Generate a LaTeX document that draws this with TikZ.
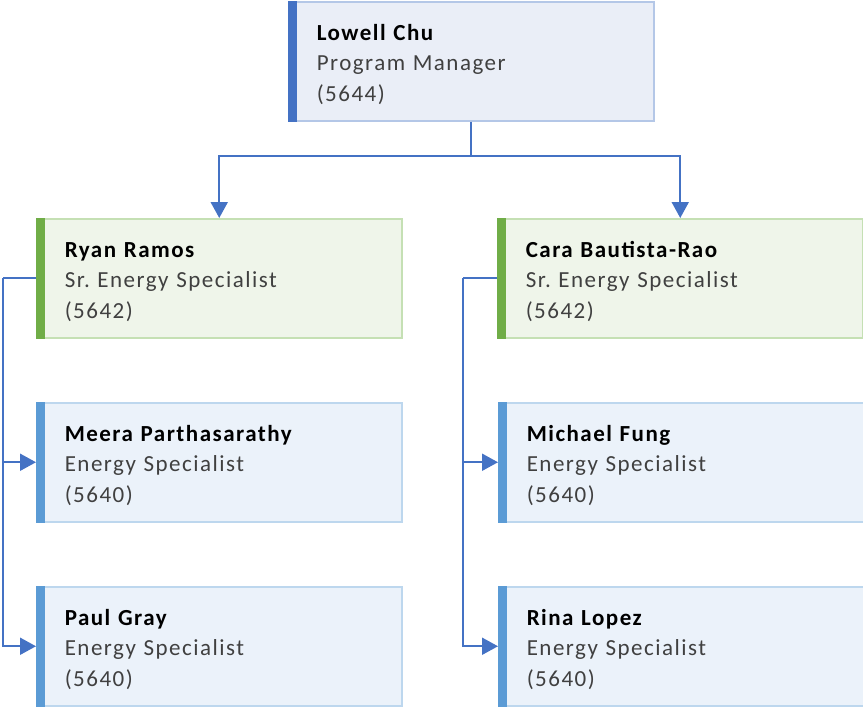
\documentclass[tikz,border=0pt]{standalone}
\usepackage{fontspec}
\setmainfont[LetterSpace=6.5]{Carlito}
\usetikzlibrary{arrows.meta}

\definecolor{linkblue}{HTML}{4472C4}
\definecolor{topfill}{HTML}{EAEEF7}
\definecolor{topborder}{HTML}{B4C7E7}
\definecolor{topbar}{HTML}{4472C4}
\definecolor{greenfill}{HTML}{EFF5EA}
\definecolor{greenborder}{HTML}{C5E0B4}
\definecolor{greenbar}{HTML}{70AD47}
\definecolor{bluefill}{HTML}{EBF2FA}
\definecolor{blueborder}{HTML}{BDD7EE}
\definecolor{bluebar}{HTML}{5B9BD5}
\definecolor{subtext}{HTML}{404040}

% name, role and extension, one per line; the strut adds a little room above the name
\newcommand{\cardtext}[3]{\rule{0pt}{22pt}\textbf{#1}\\\textcolor{subtext}{#2}\\\textcolor{subtext}{#3}}

\begin{document}
\frenchspacing
\begin{tikzpicture}[x=1pt,y=-1pt,
  card/.style={rectangle, draw=#1border, fill=#1fill, line width=1.5pt,
    minimum width=365pt, minimum height=119pt, anchor=north west,
    align=left, text width=309pt, inner xsep=28pt, inner ysep=0pt,
    font=\fontsize{23}{30.5}\selectfont},
  conn/.style={draw=linkblue, line width=2pt,
    -{Triangle[length=16pt,width=17pt]}},
  bus/.style={draw=linkblue, line width=2pt}
]
\useasboundingbox (0,0) rectangle (863,707);

% boxes
\node[card=top, minimum width=364pt] (lowell) at (288,1)
  {\cardtext{Lowell Chu}{Program Manager}{(5644)}};
\node[card=green] (ryan) at (36,218)
  {\cardtext{Ryan Ramos}{Sr. Energy Specialist}{(5642)}};
\node[card=green] (cara) at (497,218)
  {\cardtext{Cara Bautista-Rao}{Sr. Energy Specialist}{(5642)}};
\node[card=blue] (meera) at (36,402)
  {\cardtext{Meera Parthasarathy}{Energy Specialist}{(5640)}};
\node[card=blue] (paul) at (36,586)
  {\cardtext{Paul Gray}{Energy Specialist}{(5640)}};
\node[card=blue, minimum width=364pt] (michael) at (498,402)
  {\cardtext{Michael Fung}{Energy Specialist}{(5640)}};
\node[card=blue, minimum width=364pt] (rina) at (498,586)
  {\cardtext{Rina Lopez}{Energy Specialist}{(5640)}};

% accent bars on the left edge of each box
\fill[topbar] (lowell.north west) rectangle ([xshift=9pt]lowell.south west);
\fill[greenbar] (ryan.north west) rectangle ([xshift=9pt]ryan.south west);
\fill[greenbar] (cara.north west) rectangle ([xshift=9pt]cara.south west);
\fill[bluebar] (meera.north west) rectangle ([xshift=9pt]meera.south west);
\fill[bluebar] (paul.north west) rectangle ([xshift=9pt]paul.south west);
\fill[bluebar] (michael.north west) rectangle ([xshift=9pt]michael.south west);
\fill[bluebar] (rina.north west) rectangle ([xshift=9pt]rina.south west);

% reporting lines
\coordinate (split) at (471,156);
\coordinate (lrail) at (3,0);
\coordinate (rrail) at (463,0);

\draw[bus] (lowell.south) -- (lowell.south |- split);
\draw[conn] (lowell.south |- split) -| (ryan.north);
\draw[conn] (lowell.south |- split) -| (cara.north);

\draw[bus] (ryan.west) -- (ryan.west -| lrail);
\draw[conn] (ryan.west -| lrail) |- (meera.west);
\draw[conn] (ryan.west -| lrail) |- (paul.west);

\draw[bus] (cara.west) -- (cara.west -| rrail);
\draw[conn] (cara.west -| rrail) |- (michael.west);
\draw[conn] (cara.west -| rrail) |- (rina.west);
\end{tikzpicture}
\end{document}
